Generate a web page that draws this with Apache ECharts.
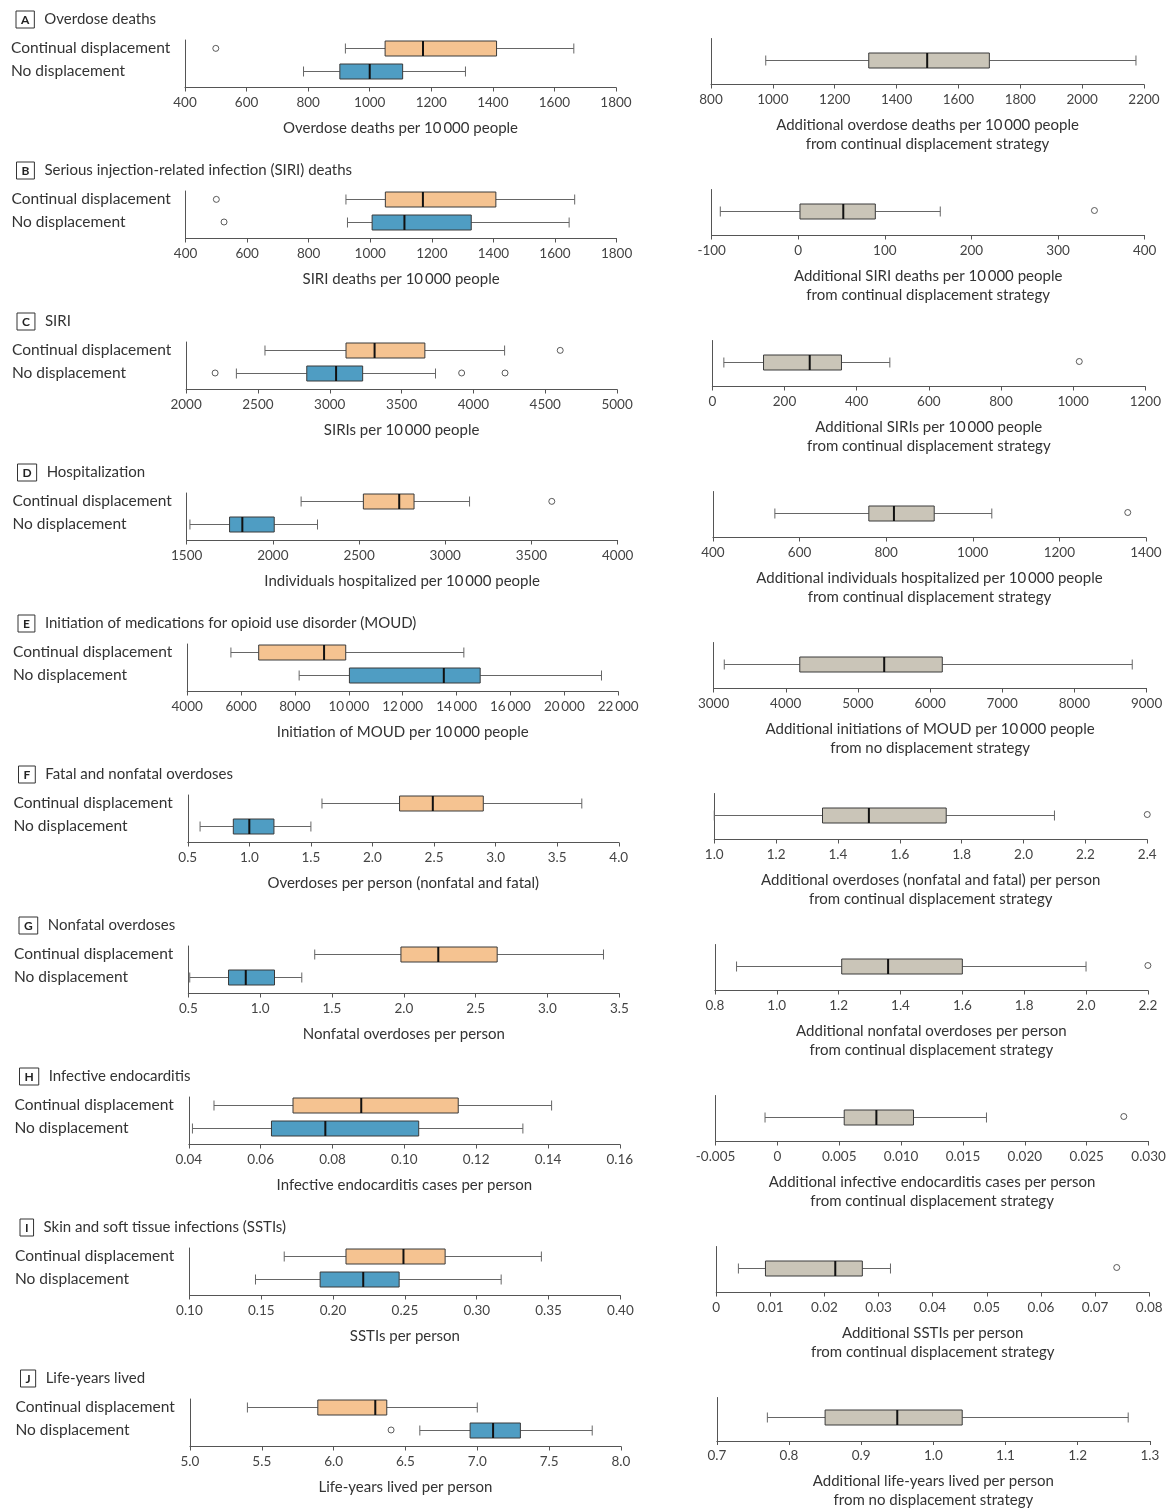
<!DOCTYPE html>
<html><head><meta charset="utf-8">
<script src="https://cdn.jsdelivr.net/npm/echarts@6/dist/echarts.min.js"></script>
<style>html,body{margin:0;padding:0;background:#fff}#c{width:1172px;height:1511px}</style>
</head><body><div id="c"></div>
<script>
// ---------- DATA ----------
const panelLetters = ['A','B','C','D','E','F','G','H','I','J'];
const panelTitles = [
  'Overdose deaths',
  'Serious injection-related infection (SIRI) deaths',
  'SIRI',
  'Hospitalization',
  'Initiation of medications for opioid use disorder (MOUD)',
  'Fatal and nonfatal overdoses',
  'Nonfatal overdoses',
  'Infective endocarditis',
  'Skin and soft tissue infections (SSTIs)',
  'Life-years lived'
];
const groupNames = ['Continual displacement', 'No displacement'];
const leftAxisNames = [
  'Overdose deaths per 10\u2009000 people',
  'SIRI deaths per 10\u2009000 people',
  'SIRIs per 10\u2009000 people',
  'Individuals hospitalized per 10\u2009000 people',
  'Initiation of MOUD per 10\u2009000 people',
  'Overdoses per person (nonfatal and fatal)',
  'Nonfatal overdoses per person',
  'Infective endocarditis cases per person',
  'SSTIs per person',
  'Life-years lived per person'
];
const rightAxisNames = [
  'Additional overdose deaths per 10\u2009000 people\nfrom continual displacement strategy',
  'Additional SIRI deaths per 10\u2009000 people\nfrom continual displacement strategy',
  'Additional SIRIs per 10\u2009000 people\nfrom continual displacement strategy',
  'Additional individuals hospitalized per 10\u2009000 people\nfrom continual displacement strategy',
  'Additional initiations of MOUD per 10\u2009000 people\nfrom no displacement strategy',
  'Additional overdoses (nonfatal and fatal) per person\nfrom continual displacement strategy',
  'Additional nonfatal overdoses per person\nfrom continual displacement strategy',
  'Additional infective endocarditis cases per person\nfrom continual displacement strategy',
  'Additional SSTIs per person\nfrom continual displacement strategy',
  'Additional life-years lived per person\nfrom no displacement strategy'
];
// box stats: [min whisker, Q1, median, Q3, max whisker]
const continualStats = [
  [921, 1050, 1173, 1412, 1663],
  [921, 1049, 1171, 1408, 1664],
  [2549, 3113, 3312, 3662, 4217],
  [2164, 2525, 2733, 2819, 3141],
  [5623, 6654, 9081, 9885, 14270],
  [1.59, 2.22, 2.49, 2.90, 3.70],
  [1.38, 1.98, 2.24, 2.65, 3.39],
  [0.047, 0.069, 0.088, 0.115, 0.141],
  [0.166, 0.209, 0.249, 0.278, 0.345],
  [5.40, 5.89, 6.29, 6.37, 7.00]
];
const noDisplacementStats = [
  [785, 903, 1000, 1107, 1311],
  [926, 1006, 1111, 1328, 1646],
  [2350, 2840, 3044, 3229, 3736],
  [1519, 1749, 1823, 2008, 2259],
  [8156, 10022, 13526, 14876, 19380],
  [0.60, 0.87, 1.00, 1.20, 1.50],
  [0.51, 0.78, 0.90, 1.10, 1.29],
  [0.041, 0.063, 0.078, 0.104, 0.133],
  [0.146, 0.191, 0.221, 0.246, 0.317],
  [6.60, 6.95, 7.11, 7.30, 7.80]
];
const differenceStats = [
  [977, 1310, 1499, 1700, 2174],
  [-90, 2, 52, 89, 164],
  [32, 142, 270, 358, 492],
  [543, 760, 818, 911, 1044],
  [3148, 4194, 5364, 6169, 8801],
  [1.00, 1.35, 1.50, 1.75, 2.10],
  [0.87, 1.21, 1.36, 1.60, 2.00],
  [-0.001, 0.0054, 0.0080, 0.0110, 0.0169],
  [0.0041, 0.0091, 0.0220, 0.0270, 0.0322],
  [0.77, 0.85, 0.95, 1.04, 1.27]
];
const continualOutliers = [[500], [500], [4604], [3618], [], [], [], [], [], []];
const noDisplacementOutliers = [[], [525], [2202, 3918, 4220], [], [], [], [], [], [], [6.40]];
const differenceOutliers = [[], [342], [1017], [1358], [], [2.40], [2.20], [0.028], [0.074], []];
// axis ranges [min, max, interval]
const leftAxisRanges = [
  [400, 1800, 200], [400, 1800, 200], [2000, 5000, 500], [1500, 4000, 500], [4000, 20000, 2000],
  [0.5, 4.0, 0.5], [0.5, 3.5, 0.5], [0.04, 0.16, 0.02], [0.10, 0.40, 0.05], [5.0, 8.0, 0.5]
];
const rightAxisRanges = [
  [800, 2200, 200], [-100, 400, 100], [0, 1200, 200], [400, 1400, 200], [3000, 9000, 1000],
  [1.0, 2.4, 0.2], [0.8, 2.2, 0.2], [-0.005, 0.030, 0.005], [0, 0.08, 0.01], [0.7, 1.3, 0.1]
];
const leftTickLabels = [
  ['400','600','800','1000','1200','1400','1600','1800'],
  ['400','600','800','1000','1200','1400','1600','1800'],
  ['2000','2500','3000','3500','4000','4500','5000'],
  ['1500','2000','2500','3000','3500','4000'],
  ['4000','6000','8000','10\u2009000','12\u2009000','14\u2009000','16\u2009000','20\u2009000','22\u2009000'],
  ['0.5','1.0','1.5','2.0','2.5','3.0','3.5','4.0'],
  ['0.5','1.0','1.5','2.0','2.5','3.0','3.5'],
  ['0.04','0.06','0.08','0.10','0.12','0.14','0.16'],
  ['0.10','0.15','0.20','0.25','0.30','0.35','0.40'],
  ['5.0','5.5','6.0','6.5','7.0','7.5','8.0']
];
const rightTickLabels = [
  ['800','1000','1200','1400','1600','1800','2000','2200'],
  ['-100','0','100','200','300','400'],
  ['0','200','400','600','800','1000','1200'],
  ['400','600','800','1000','1200','1400'],
  ['3000','4000','5000','6000','7000','8000','9000'],
  ['1.0','1.2','1.4','1.6','1.8','2.0','2.2','2.4'],
  ['0.8','1.0','1.2','1.4','1.6','1.8','2.0','2.2'],
  ['-0.005','0','0.005','0.010','0.015','0.020','0.025','0.030'],
  ['0','0.01','0.02','0.03','0.04','0.05','0.06','0.07','0.08'],
  ['0.7','0.8','0.9','1.0','1.1','1.2','1.3']
];

// ---------- STYLE ----------
const FONT = 'Lato, "Noto Sans", sans-serif';
const TEXT = '#333';
const AXIS = '#555';
const ORANGE = '#f5c391';
const BLUE = '#4f9dc3';
const GREY = '#cac5b8';

function boxRenderer(colorFor) {
  return function (params, api) {
    const y = api.value(0);
    const pMin = api.coord([api.value(1), y]);
    const pQ1 = api.coord([api.value(2), y]);
    const pMed = api.coord([api.value(3), y]);
    const pQ3 = api.coord([api.value(4), y]);
    const pMax = api.coord([api.value(5), y]);
    const cy = Math.round(pMin[1]) + 0.5;
    const bh = 15, ch = 10;
    const ls = { stroke: '#666', lineWidth: 1 };
    return {
      type: 'group',
      children: [
        { type: 'line', shape: { x1: pMin[0], y1: cy, x2: pQ1[0], y2: cy }, style: ls },
        { type: 'line', shape: { x1: pQ3[0], y1: cy, x2: pMax[0], y2: cy }, style: ls },
        { type: 'line', shape: { x1: pMin[0], y1: cy - ch / 2, x2: pMin[0], y2: cy + ch / 2 }, style: ls },
        { type: 'line', shape: { x1: pMax[0], y1: cy - ch / 2, x2: pMax[0], y2: cy + ch / 2 }, style: ls },
        { type: 'rect', shape: { x: pQ1[0], y: cy - bh / 2, width: pQ3[0] - pQ1[0], height: bh },
          style: { fill: colorFor(y), stroke: '#3a3a3a', lineWidth: 1 } },
        { type: 'line', shape: { x1: pMed[0], y1: cy - bh / 2, x2: pMed[0], y2: cy + bh / 2 },
          style: { stroke: '#111', lineWidth: 2 } }
      ]
    };
  };
}

function tickFormatter(range, labels) {
  return function (v) {
    const idx = Math.round((v - range[0]) / range[2]);
    return labels[idx] !== undefined ? labels[idx] : '';
  };
}

const grids = [], xAxes = [], yAxes = [], series = [], titles = [];
for (let i = 0; i < 10; i++) {
  const axisY = 87.5 + 151 * i;
  const lx = 185 + 0.55 * i;
  const rx = 711 + 0.65 * i;
  const textX = 11 + 0.5 * i;
  const rAxisY = axisY - 3;

  grids.push({ left: lx, top: axisY - 47.5, width: 431, height: 47.5 });
  grids.push({ left: rx, top: rAxisY - 46, width: 433, height: 46 });

  const xCommon = (range, labels, name, gap) => ({
    type: 'value', min: range[0], max: range[1], interval: range[2],
    name: name, nameLocation: 'middle', nameGap: gap,
    nameTextStyle: { fontFamily: FONT, fontSize: 15, color: TEXT, lineHeight: 19 },
    axisLine: { show: true, onZero: false, lineStyle: { color: AXIS, width: 1 } },
    axisTick: { show: true, length: 4, lineStyle: { color: AXIS } },
    splitLine: { show: false },
    axisLabel: { fontFamily: FONT, fontSize: 13.5, color: '#444', margin: 8,
      showMinLabel: true, showMaxLabel: true, hideOverlap: false,
      formatter: tickFormatter(range, labels) }
  });
  xAxes.push(Object.assign({ gridIndex: 2 * i }, xCommon(leftAxisRanges[i], leftTickLabels[i], leftAxisNames[i], 31)));
  xAxes.push(Object.assign({ gridIndex: 2 * i + 1 }, xCommon(rightAxisRanges[i], rightTickLabels[i], rightAxisNames[i], 31)));

  yAxes.push({
    gridIndex: 2 * i, type: 'value', min: 0.63, max: 2.73, inverse: true,
    axisLine: { show: true, onZero: false, lineStyle: { color: AXIS, width: 1 } },
    axisTick: { show: false }, splitLine: { show: false },
    axisLabel: {
      show: true, customValues: [1, 2], align: 'left', margin: lx - textX,
      fontFamily: FONT, fontSize: 15.5, color: TEXT,
      formatter: v => groupNames[Math.round(v) - 1] || ''
    }
  });
  yAxes.push({
    gridIndex: 2 * i + 1, type: 'value', min: 0.075, max: 2.1, inverse: true,
    axisLine: { show: true, onZero: false, lineStyle: { color: AXIS, width: 1 } },
    axisTick: { show: false }, splitLine: { show: false }, axisLabel: { show: false }
  });

  series.push({
    type: 'custom', xAxisIndex: 2 * i, yAxisIndex: 2 * i, silent: true,
    renderItem: boxRenderer(y => (y === 1 ? ORANGE : BLUE)),
    encode: { x: [1, 2, 3, 4, 5], y: 0 },
    data: [[1].concat(continualStats[i]), [2].concat(noDisplacementStats[i])]
  });
  series.push({
    type: 'custom', xAxisIndex: 2 * i + 1, yAxisIndex: 2 * i + 1, silent: true,
    renderItem: boxRenderer(() => GREY),
    encode: { x: [1, 2, 3, 4, 5], y: 0 },
    data: [[1].concat(differenceStats[i])]
  });
  const outL = continualOutliers[i].map(v => [v, 1]).concat(noDisplacementOutliers[i].map(v => [v, 2]));
  const outR = differenceOutliers[i].map(v => [v, 1]);
  const scatterStyle = { type: 'scatter', symbol: 'circle', symbolSize: 6, silent: true,
    itemStyle: { color: '#fff', borderColor: '#333', borderWidth: 1 } };
  series.push(Object.assign({ xAxisIndex: 2 * i, yAxisIndex: 2 * i, data: outL }, scatterStyle));
  series.push(Object.assign({ xAxisIndex: 2 * i + 1, yAxisIndex: 2 * i + 1, data: outR }, scatterStyle));

  titles.push({
    left: textX, top: axisY - 87.5 + 6,
    text: '{box|' + panelLetters[i] + '}{gap|}' + panelTitles[i],
    textStyle: {
      fontFamily: FONT, fontSize: 15, fontWeight: 'normal', color: TEXT,
      rich: {
        box: { fontFamily: FONT, fontSize: 12, fontWeight: 'bold', color: '#222',
          borderColor: '#333', borderWidth: 1, padding: [3, 5, 2, 5] },
        gap: { width: 10 }
      }
    }
  });
}

const chart = echarts.init(document.getElementById('c'), null, { renderer: 'canvas' });
chart.setOption({
  animation: false,
  backgroundColor: '#fff',
  title: titles,
  grid: grids,
  xAxis: xAxes,
  yAxis: yAxes,
  series: series
});
</script></body></html>
